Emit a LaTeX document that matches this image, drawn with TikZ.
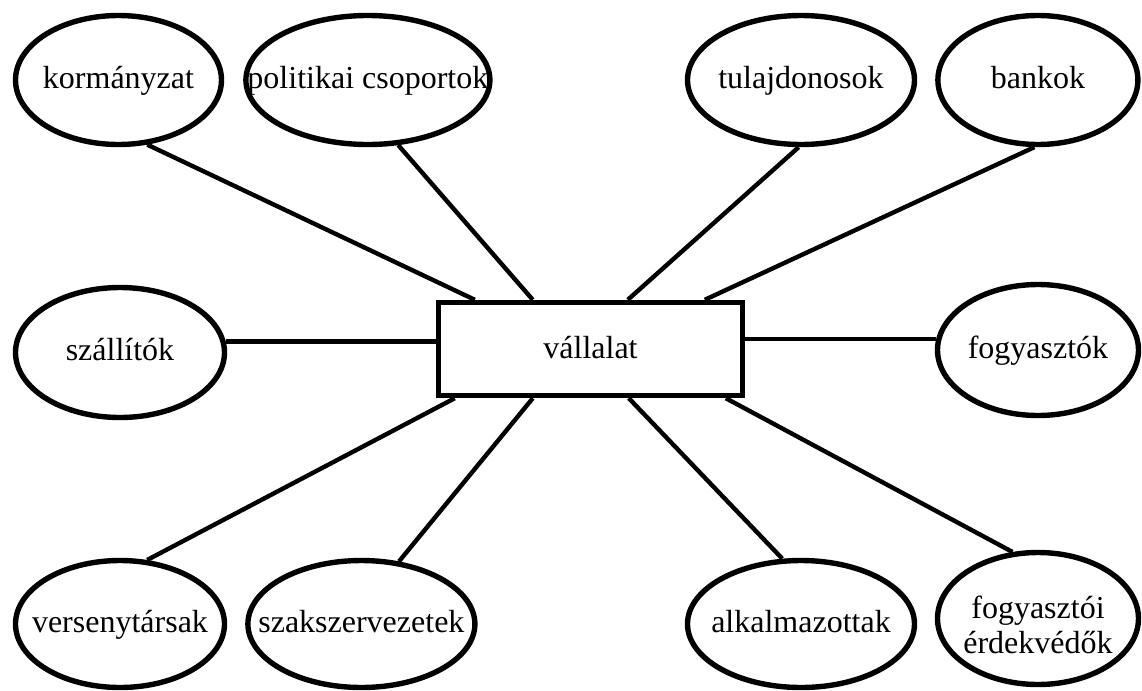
\documentclass[tikz,border=0pt]{standalone}
\usepackage{fontspec}
\setmainfont{Liberation Serif}
\usetikzlibrary{shapes.geometric, positioning}
\tikzstyle{party}=[ellipse, draw, line width=2.7pt, inner sep=-25pt, minimum height=63.5pt, font=\fontsize{16}{17.5}\selectfont, text height=11pt, text depth=3pt]
\tikzstyle{firm}=[rectangle, draw, line width=2.7pt, minimum width=152pt, minimum height=46.5pt, font=\fontsize{16}{17.5}\selectfont, text height=11pt, text depth=2pt]
\tikzstyle{wire}=[line width=2.2pt]

\begin{document}
\begin{tikzpicture}[x=0.5pt, y=-0.5pt]
\useasboundingbox (0,0) rectangle (1142,691);

% A vállalat
\node[firm] (vall) at (590.5,349) {vállalat};

% Felső sor
\node[party, minimum width=103pt, minimum height=64.5pt] (korm) at (118.5,80) {kormányzat};
\node[party, minimum width=122pt, minimum height=64.5pt, right=9.5pt of korm] (pol) {politikai csoportok};
\node[party, minimum width=113.5pt, minimum height=64.5pt] (tul) at (801,80) {tulajdonosok};
\node[party, minimum width=100pt, minimum height=64.5pt, right=9pt of tul] (bank) {bankok};

% Középső sor
\node[party, minimum width=104.5pt, minimum height=65pt] (szall) at (120,352.5) {szállítók};
\node[party, minimum width=100.5pt, minimum height=65.5pt] (fogy) at (1038,350) {fogyasztók};

% Alsó sor
\node[party, minimum width=104.5pt] (vers) at (120,624) {versenytársak};
\node[party, minimum width=113.5pt, right=9pt of vers] (szak) {szakszervezetek};
\node[party, minimum width=113.5pt] (alk) at (801,624) {alkalmazottak};
\node[party, minimum width=100.5pt, minimum height=66pt, align=center, text height=34.5pt, text depth=0pt] (erd) at (1038,618.5) {fogyasztói\\érdekvédők};

% Kapcsolatok
\draw[wire] (korm.-66) -- ([xshift=19.5pt]vall.north west);
\draw[wire] (pol.-65) -- ([xshift=48.5pt]vall.north west);
\draw[wire] (tul.-92) -- ([xshift=96pt]vall.north west);
\draw[wire] (bank.-93) -- ([xshift=134.5pt]vall.north west);
\draw[wire] (szall.6) -- (szall.6 -| vall.west);
\draw[wire] (fogy.174) -- (fogy.174 -| vall.east);
\draw[wire] (vers.67) -- ([xshift=9.5pt]vall.south west);
\draw[wire] (szak.59) -- ([xshift=48.5pt]vall.south west);
\draw[wire] (alk.106) -- ([xshift=96.5pt]vall.south west);
\draw[wire] (erd.111) -- ([xshift=145pt]vall.south west);
\end{tikzpicture}
\end{document}
